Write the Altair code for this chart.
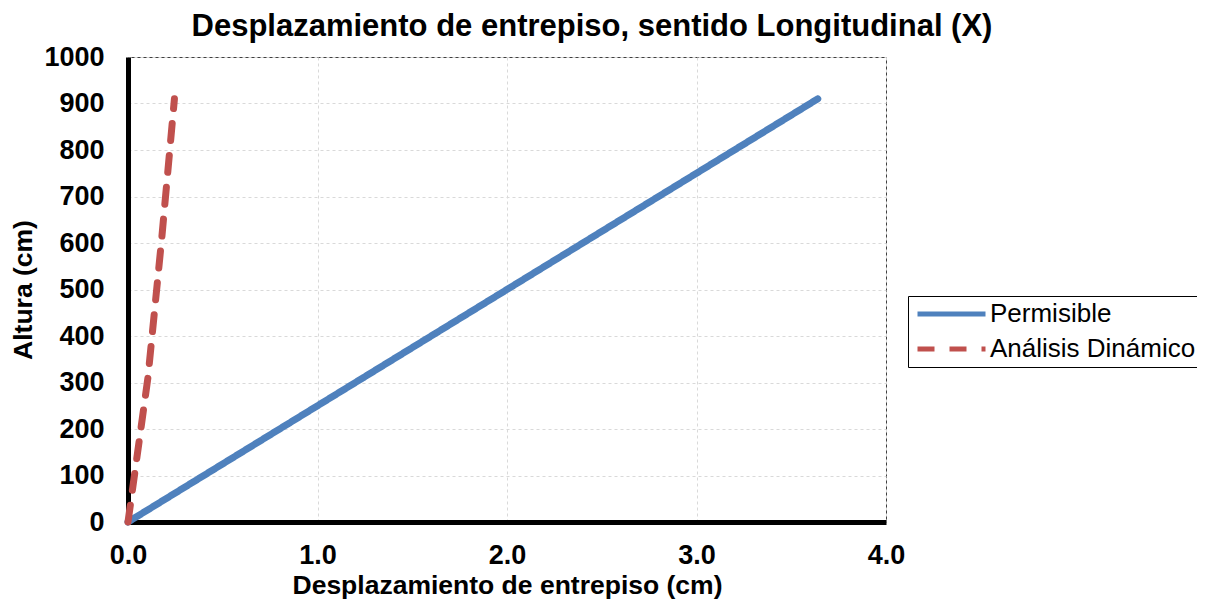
import altair as alt
import pandas as pd

# Series values
alturas_perm = [0, 310, 610, 910]
despl_perm = [0.0, 1.24, 2.44, 3.64]

alturas_din = [0, 310, 610, 910]
despl_din = [0.0, 0.105, 0.178, 0.245]

series = ["Permisible", "Análisis Dinámico"]
colores = ["#4F81BD", "#C0504D"]

x_ticks = [0, 1, 2, 3, 4]
y_ticks = [0, 100, 200, 300, 400, 500, 600, 700, 800, 900, 1000]

rows = []
for i, (h, d) in enumerate(zip(alturas_perm, despl_perm)):
    rows.append({"serie": series[0], "altura": h, "despl": d, "orden": i})
for i, (h, d) in enumerate(zip(alturas_din, despl_din)):
    rows.append({"serie": series[1], "altura": h, "despl": d, "orden": i})
df = pd.DataFrame(rows)

FONT = "Liberation Sans"

chart = alt.Chart(df).mark_line(strokeWidth=7, strokeCap="round", strokeJoin="round").encode(
    x=alt.X("despl:Q",
            scale=alt.Scale(domain=[0, 4], nice=False, zero=True),
            axis=alt.Axis(title="Desplazamiento de entrepiso (cm)", values=x_ticks,
                          format=".1f", ticks=False, labelFlush=False, labelOverlap=False,
                          labelPadding=20, titlePadding=4,
                          domainColor="black", domainWidth=5,
                          gridColor="#d9d9d9", gridDash=[3, 3], gridWidth=1,
                          labelFont=FONT, labelFontSize=27, labelFontWeight="bold",
                          labelColor="black",
                          titleFont=FONT, titleFontSize=26.5, titleFontWeight="bold",
                          titleColor="black")),
    y=alt.Y("altura:Q",
            scale=alt.Scale(domain=[0, 1000], nice=False),
            axis=alt.Axis(title="Altura (cm)", values=y_ticks, format="d",
                          ticks=False, labelFlush=False, labelOverlap=False,
                          labelPadding=24, titlePadding=6,
                          domainColor="black", domainWidth=5,
                          gridColor="#d9d9d9", gridDash=[3, 3], gridWidth=1,
                          labelFont=FONT, labelFontSize=27, labelFontWeight="bold",
                          labelColor="black",
                          titleFont=FONT, titleFontSize=26.5, titleFontWeight="bold",
                          titleColor="black")),
    color=alt.Color("serie:N",
                    scale=alt.Scale(domain=series, range=colores),
                    legend=alt.Legend(title=None, orient="none", legendX=780, legendY=239,
                                      symbolType="M-1,0H7", symbolSize=289, symbolStrokeWidth=5,
                                      labelFont=FONT, labelFontSize=26, labelColor="black",
                                      labelLimit=400, labelOffset=51, rowPadding=9, padding=5,
                                      strokeColor="black", fillColor="white")),
    strokeDash=alt.StrokeDash("serie:N",
                              scale=alt.Scale(domain=series, range=[[1, 0], [17, 15]]),
                              legend=None),
    order="orden:Q",
    detail="serie:N",
).properties(
    width=758,
    height=465,
    title=alt.TitleParams("Desplazamiento de entrepiso, sentido Longitudinal (X)",
                          font=FONT, fontSize=31, fontWeight="bold", color="black",
                          anchor="middle", frame="group", dx=85, offset=0),
    padding={"left": 120, "top": 49, "right": 311, "bottom": 79},
    autosize=alt.AutoSizeParams(type="none"),
).configure_view(stroke="#404040", strokeWidth=1)

chart.save("out.html", embed_options={"renderer": "svg", "actions": False})
